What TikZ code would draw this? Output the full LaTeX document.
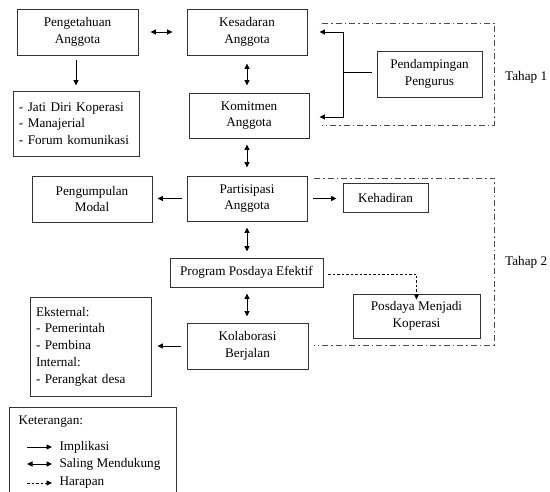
\documentclass[tikz,border=0pt]{standalone}
\usepackage{fontspec}
\setmainfont{Liberation Serif}
\usetikzlibrary{arrows.meta}
\begin{document}
\begin{tikzpicture}[x=1pt,y=-1pt,
  every node/.style={font=\fontsize{13.2}{16.8}\selectfont},
  box/.style={draw=black!80,line width=0.9pt,align=center,inner sep=0pt},
  lbox/.style={box,align=left,inner xsep=6pt},
  imp/.style={-{Triangle[length=5.5pt,width=5pt]},line width=0.9pt},
  dbl/.style={{Triangle[length=5.5pt,width=5pt]}-{Triangle[length=5.5pt,width=5pt]},line width=0.9pt},
  hope/.style={-{Triangle[length=5.5pt,width=5pt]},line width=0.8pt,dash pattern=on 2.5pt off 2pt},
  frame/.style={draw=black!70,line width=0.8pt,dash pattern=on 6pt off 3pt on 1.5pt off 3pt}]
\useasboundingbox (0,0) rectangle (550,492);
% boxes
\node[box,minimum width=121pt,minimum height=46pt] (peng) at (77.5,32) {Pengetahuan\\Anggota};
\node[box,minimum width=120pt,minimum height=46pt] (kes) at (247,32) {Kesadaran\\Anggota};
\node[lbox,minimum width=126pt,minimum height=65pt,text width=114pt] (jati) at (76,123.5) {- Jati Diri Koperasi\\- Manajerial\\- Forum komunikasi};
\node[box,minimum width=120pt,minimum height=45pt] (komit) at (249,115.5) {Komitmen\\Anggota};
\node[box,minimum width=105pt,minimum height=46pt] (pend) at (429.5,74) {Pendampingan\\Pengurus};
\node[box,minimum width=120pt,minimum height=46pt] (pengu) at (92,199) {Pengumpulan\\Modal};
\node[box,minimum width=120pt,minimum height=45pt] (part) at (247,198.5) {Partisipasi\\Anggota};
\node[box,minimum width=85pt,minimum height=29pt] (keh) at (385.5,197.5) {Kehadiran};
\node[box,minimum width=153pt,minimum height=29pt] (prog) at (246.5,272.5) {Program Posdaya Efektif};
\node[box,minimum width=127pt,minimum height=44pt] (posd) at (416.5,316) {Posdaya Menjadi\\Koperasi};
\node[lbox,minimum width=121pt,minimum height=99pt,text width=109pt] (eks) at (90.5,346.5) {Eksternal:\\- Pemerintah\\- Pembina\\Internal:\\- Perangkat desa};
\node[box,minimum width=121pt,minimum height=46pt] (kol) at (247.5,346) {Kolaborasi\\Berjalan};
% frames
\draw[frame] (322,23) -- (494,23) -- (494,125) -- (322,125);
\draw[frame] (314,178) -- (494,178) -- (494,345) -- (314,345);
\node[anchor=west,inner xsep=1pt] (t1) at (504,77) {Tahap 1};
\node[anchor=west,inner xsep=1pt] (t2) at (504,262) {Tahap 2};
% connectors
\draw[dbl,shorten <=12pt,shorten >=14pt] (peng) -- (kes);
\draw[imp,shorten <=5pt,shorten >=5pt] (peng.south -| jati.north) -- (jati.north);
\draw[dbl,shorten <=8pt,shorten >=7pt] (kes.south) -- (kes.south |- komit.north);
\draw[dbl,shorten <=6pt,shorten >=8pt] (part.north |- komit.south) -- (part.north);
\draw[dbl,shorten <=6pt,shorten >=6pt] (part.south) -- (part.south |- prog.north);
\draw[dbl,shorten <=6pt,shorten >=6pt] (part.south |- prog.south) -- (part.south |- kol.north);
\draw[imp,shorten <=5pt,shorten >=5pt] (part.west) -- (part.west -| pengu.east);
\draw[imp,shorten <=6pt,shorten >=6pt] (part.east) -- (part.east -| keh.west);
\draw[imp,shorten <=6pt,shorten >=6pt] (kol.west) -- (kol.west -| eks.east);
\coordinate (bj) at (343,72);
\draw[line width=0.9pt] (bj) -- ([xshift=-5pt]pend.west |- bj);
\draw[imp] (bj) |- ([xshift=12pt]kes.east);
\draw[imp] (bj) |- ([xshift=10pt,yshift=-1.5pt]komit.east);
\draw[hope] ([xshift=5pt,yshift=-1.5pt]prog.east) -| ([yshift=-6pt]posd.north);
% legend
\draw[draw=black!80,line width=0.9pt] (9,500) -- (9,407) -- (176,407) -- (176,500);
\node[anchor=west] (ket) at (15,422) {Keterangan:};
\coordinate (l1a) at (27,447); \coordinate (l1b) at (52,447);
\coordinate (l2a) at (27,464); \coordinate (l2b) at (52,464);
\coordinate (l3a) at (27,483); \coordinate (l3b) at (52,483);
\draw[imp] (l1a) -- (l1b);
\draw[dbl] (l2a) -- (l2b);
\draw[hope] (l3a) -- (l3b);
\node[anchor=west] (li) at (56,447) {Implikasi};
\node[anchor=west] (ls) at (56,464) {Saling Mendukung};
\node[anchor=west] (lh) at (56,483) {Harapan};
\end{tikzpicture}
\end{document}
